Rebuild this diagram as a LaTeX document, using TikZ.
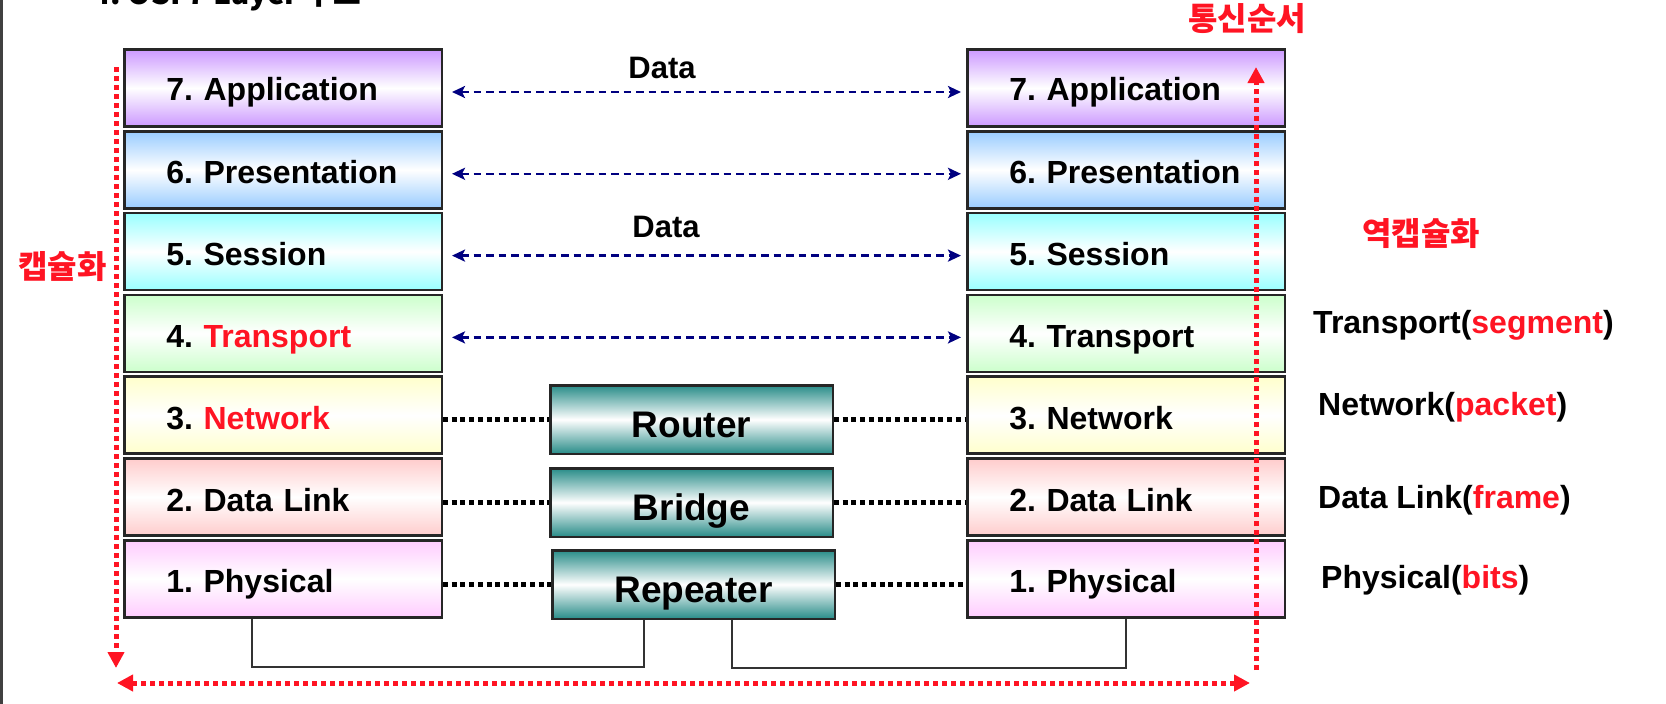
\documentclass[tikz,border=0pt]{standalone}
\usepackage{fontspec}
\setmainfont{Liberation Sans}
\newfontfamily\krfont{Noto Sans CJK KR}
\usepackage{tikz}
\usetikzlibrary{arrows.meta}
\frenchspacing

\definecolor{appcol}{RGB}{204,153,255}
\definecolor{precol}{RGB}{153,204,255}
\definecolor{sescol}{RGB}{153,255,255}
\definecolor{tracol}{RGB}{204,255,204}
\definecolor{netcol}{RGB}{255,255,204}
\definecolor{dlcol}{RGB}{255,204,204}
\definecolor{phycol}{RGB}{255,204,255}
\definecolor{devcol}{RGB}{40,140,136}
\definecolor{sigred}{RGB}{255,20,35}
\definecolor{navy}{RGB}{0,0,128}

\begin{document}
\begin{tikzpicture}[x=1pt,y=-1pt,
  layer/.style={draw=black!85,line width=2.5pt,minimum width=317.5pt,minimum height=77pt,
    inner xsep=42pt,text width=233.5pt,align=left,text height=28pt,text depth=0pt,
    font=\fontsize{32}{32}\selectfont\bfseries\frenchspacing,top color=#1,bottom color=#1,middle color=white},
  device/.style={draw=black!85,line width=2.5pt,minimum width=282.5pt,minimum height=68.5pt,
    inner sep=0pt,text height=35pt,text depth=0pt,font=\fontsize{37}{37}\selectfont\bfseries,
    top color=devcol,bottom color=devcol,middle color=white},
  dataflow/.style={draw=navy,line width=2.5pt,dash pattern=on 7.5pt off 5pt,
    {Stealth[length=13pt,width=12pt,inset=3pt]}-{Stealth[length=13pt,width=12pt,inset=3pt]}},
  datalbl/.style={anchor=base,inner sep=0pt,font=\fontsize{31}{31}\selectfont\bfseries},
  link/.style={line width=4.5pt,dash pattern=on 5pt off 3.7pt},
  wire/.style={draw=black!80,line width=2pt},
  order/.style={draw=sigred,line width=5pt,dash pattern=on 5pt off 4pt},
  >={Triangle[length=16pt,width=16pt]},
  redtext/.style={text=sigred,inner sep=0pt,font=\krfont\fontsize{32}{32}\selectfont\bfseries},
  pdu/.style={anchor=base west,inner sep=0pt,font=\fontsize{32}{32}\selectfont\bfseries}]
\useasboundingbox (0,0) rectangle (1666,704);
\clip (0,0) rectangle (1666,704);
\fill[white] (0,0) rectangle (1666,704);
\draw[line width=3pt,black!75] (1.5,0) -- (1.5,704);
\node[anchor=base west,inner sep=0pt,font=\krfont\fontsize{30}{30}\selectfont\bfseries] (title) at (92,5) {4. OSI 7 Layer 구조};

% sender stack
\node[layer=appcol,text height=24pt] (l7) at (283,88) {7. Application};
\node[layer=precol] (l6) at (283,169.8) {6. Presentation};
\node[layer=sescol] (l5) at (283,251.6) {5. Session};
\node[layer=tracol] (l4) at (283,333.4) {4. \textcolor{sigred}{Transport}};
\node[layer=netcol] (l3) at (283,415.2) {3. \textcolor{sigred}{Network}};
\node[layer=dlcol] (l2) at (283,497) {2. Data Link};
\node[layer=phycol] (l1) at (283,578.8) {1. Physical};

% receiver stack
\node[layer=appcol,text height=24pt] (r7) at (1126,88) {7. Application};
\node[layer=precol] (r6) at (1126,169.8) {6. Presentation};
\node[layer=sescol] (r5) at (1126,251.6) {5. Session};
\node[layer=tracol] (r4) at (1126,333.4) {4. Transport};
\node[layer=netcol] (r3) at (1126,415.2) {3. Network};
\node[layer=dlcol] (r2) at (1126,497) {2. Data Link};
\node[layer=phycol] (r1) at (1126,578.8) {1. Physical};

% devices
\node[device] (router) at (691.5,419.5) {Router};
\node[device] (bridge) at (691.5,502.5) {Bridge};
\node[device] (repeater) at (693.5,584.5) {Repeater};

\draw[link] (l3.east |- router.west) -- (router.west);
\draw[link] (router.east) -- (router.east -| r3.west);
\draw[link] (l2.east |- bridge.west) -- (bridge.west);
\draw[link] (bridge.east) -- (bridge.east -| r2.west);
\draw[link] (l1.east |- repeater.west) -- (repeater.west);
\draw[link] (repeater.east) -- (repeater.east -| r1.west);

\draw[dataflow] ([xshift=9pt,yshift=-4pt]l7.east) -- ([xshift=-5pt,yshift=-4pt]r7.west);
\draw[dataflow] ([xshift=9pt,yshift=-4pt]l6.east) -- ([xshift=-5pt,yshift=-4pt]r6.west);
\draw[dataflow] ([xshift=9pt,yshift=-4pt]l5.east) -- ([xshift=-5pt,yshift=-4pt]r5.west);
\draw[dataflow] ([xshift=9pt,yshift=-4pt]l4.east) -- ([xshift=-5pt,yshift=-4pt]r4.west);
\node[datalbl] (data1) at (662,78) {Data};
\node[datalbl] (data2) at (666,237) {Data};

\draw[wire] ([xshift=-31pt]l1.south) -- ++(0,48) -| ([xshift=-49.5pt]repeater.south);
\draw[wire] ([xshift=38.5pt]repeater.south) -- ++(0,48) -| (r1.south);

% order of communication
\coordinate (encTop) at (116,67);
\coordinate (encEnd) at (116,668);
\coordinate (busL) at (117,683);
\coordinate (busR) at (1250,683);
\coordinate (decBot) at (1256,670);
\coordinate (decTop) at (1256,67);
\draw[order,->] (encTop) -- (encEnd);
\draw[order,<->] (busL) -- (busR);
\draw[order,->] (decBot) -- (decTop);

\node[redtext] (enc) at (62.5,267) {캡슐화};
\node[redtext] (dec) at (1421,234) {역캡슐화};
\node[redtext] (seq) at (1247,19) {통신순서};

\node[pdu] (pdu4) at (1313,333) {Transport(\textcolor{sigred}{segment})};
\node[pdu] (pdu3) at (1318,415) {Network(\textcolor{sigred}{packet})};
\node[pdu] (pdu2) at (1318,508) {Data Link(\textcolor{sigred}{frame})};
\node[pdu] (pdu1) at (1321,588) {Physical(\textcolor{sigred}{bits})};
\end{tikzpicture}
\end{document}
